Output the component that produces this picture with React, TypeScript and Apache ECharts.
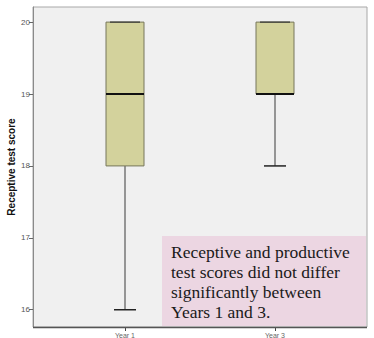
import React, { useEffect, useRef } from "react";
import * as echarts from "echarts";

// Receptive test scores by year: five-number summaries
const years = ["Year 1", "Year 3"];
const minScores = [16, 18];
const q1Scores = [18, 19];
const medianScores = [19, 19];
const q3Scores = [20, 20];
const maxScores = [20, 20];
const yTicks = [16, 17, 18, 19, 20];
const noteLines = [
  "Receptive and productive",
  "test scores did not differ",
  "significantly between",
  "Years 1 and 3.",
];

const Y_MIN = 15.76;
const Y_MAX = 20.21;

export default function App() {
  const ref = useRef<HTMLDivElement>(null);

  useEffect(() => {
    document.body.style.margin = "0";
    const chart = echarts.init(ref.current!, null, { renderer: "svg" });

    const boxData = years.map((_, i) => [
      i,
      minScores[i],
      q1Scores[i],
      medianScores[i],
      q3Scores[i],
      maxScores[i],
    ]);

    const BOX_W = 38;
    const CAP_W = 22;

    const renderItem = (params: any, api: any) => {
      const x = api.value(0);
      const pMin = api.coord([x, api.value(1)]);
      const pQ1 = api.coord([x, api.value(2)]);
      const pMed = api.coord([x, api.value(3)]);
      const pQ3 = api.coord([x, api.value(4)]);
      const pMax = api.coord([x, api.value(5)]);
      const cx = pMed[0];
      return {
        type: "group",
        children: [
          {
            type: "line",
            shape: { x1: cx, y1: pQ1[1], x2: cx, y2: pMin[1] },
            style: { stroke: "#3a3a3a", lineWidth: 1 },
          },
          {
            type: "line",
            shape: { x1: cx, y1: pQ3[1], x2: cx, y2: pMax[1] },
            style: { stroke: "#3a3a3a", lineWidth: 1 },
          },
          {
            type: "rect",
            shape: {
              x: cx - BOX_W / 2,
              y: pQ3[1],
              width: BOX_W,
              height: pQ1[1] - pQ3[1],
            },
            style: { fill: "#d3d29c", stroke: "#77775c", lineWidth: 1 },
          },
          {
            type: "line",
            shape: { x1: cx - BOX_W / 2, y1: pMed[1], x2: cx + BOX_W / 2, y2: pMed[1] },
            style: { stroke: "#111", lineWidth: 2 },
          },
          {
            type: "line",
            shape: { x1: cx - CAP_W / 2, y1: pMin[1], x2: cx + CAP_W / 2, y2: pMin[1] },
            style: { stroke: "#222", lineWidth: 1.5 },
          },
          {
            type: "line",
            shape: { x1: cx - BOX_W / 2 + 4, y1: pMax[1], x2: cx + BOX_W / 2 - 4, y2: pMax[1] },
            style: { stroke: "#333", lineWidth: 1.2 },
          },
        ],
      };
    };

    const sans = "Liberation Sans, Arial, sans-serif";

    chart.setOption({
      animation: false,
      backgroundColor: "#ffffff",
      grid: [
        // frame grid: carries the value axis
        {
          left: 33,
          right: 7,
          top: 7,
          bottom: 11,
          outerBoundsMode: "none",
          containLabel: false,
          show: true,
          backgroundColor: "#f0f0f0",
          borderColor: "#a8a8a8",
          borderWidth: 1,
        },
        // inner grid: carries the categories and the boxes
        {
          left: 50,
          right: 24,
          top: 7,
          bottom: 11,
          outerBoundsMode: "none",
          containLabel: false,
        },
      ],
      graphic: [
        {
          type: "line",
          z: 1,
          shape: { x1: 33, y1: 327.5, x2: 367, y2: 327.5 },
          style: { stroke: "#555555", lineWidth: 1.5 },
        },
        {
          type: "rect",
          z: 50,
          shape: { x: 162, y: 236, width: 204, height: 90 },
          style: { fill: "#ecd6e2" },
        },
        ...noteLines.map((line, i) => ({
          type: "text",
          z: 51,
          x: 171,
          y: 252 + i * 20,
          style: {
            text: line,
            fill: "#1a1a1a",
            font: '17.5px "Liberation Serif", serif',
            textVerticalAlign: "middle",
          },
        })),
      ],
      xAxis: [
        { type: "value", gridIndex: 0, show: false, min: 0, max: 1 },
        {
          type: "category",
          gridIndex: 1,
          data: years,
          boundaryGap: true,
          axisLine: { show: false },
          axisTick: {
            show: true,
            alignWithLabel: true,
            length: 4,
            lineStyle: { color: "#444" },
          },
          axisLabel: {
            fontSize: 7,
            color: "#666",
            margin: 5,
            fontFamily: sans,
          },
        },
      ],
      yAxis: [
        {
          type: "value",
          gridIndex: 0,
          min: Y_MIN,
          max: Y_MAX,
          name: "Receptive test score",
          nameLocation: "middle",
          nameGap: 17,
          nameMoveOverlap: false,
          nameRotate: 90,
          nameTextStyle: {
            fontSize: 10,
            fontWeight: "bold",
            color: "#111",
            fontFamily: sans,
          },
          splitLine: { show: false },
          axisLine: { show: true, lineStyle: { color: "#8a8a8a" } },
          axisTick: {
            show: true,
            length: 4,
            customValues: yTicks,
            lineStyle: { color: "#666" },
          },
          axisLabel: {
            customValues: yTicks,
            fontSize: 8,
            color: "#555",
            margin: 3,
            fontFamily: sans,
          },
        },
        {
          type: "value",
          gridIndex: 1,
          min: Y_MIN,
          max: Y_MAX,
          show: false,
          splitLine: { show: false },
        },
      ],
      series: [
        {
          type: "custom",
          xAxisIndex: 1,
          yAxisIndex: 1,
          renderItem,
          data: boxData,
          encode: { x: 0, y: [1, 2, 3, 4, 5] },
          z: 5,
        },
      ],
    });

    return () => chart.dispose();
  }, []);

  return <div ref={ref} style={{ width: 374, height: 338 }} />;
}
